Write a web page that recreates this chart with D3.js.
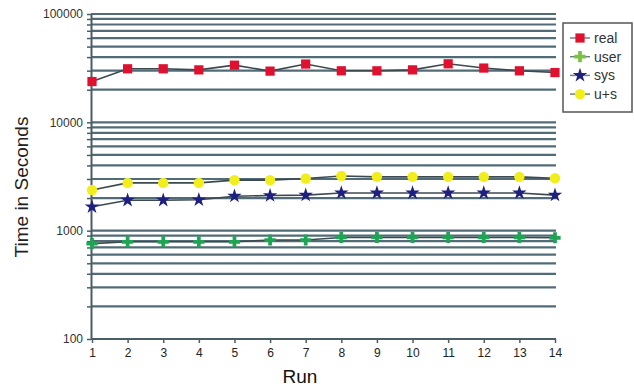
<!DOCTYPE html>
<html>
<head>
<meta charset="utf-8">
<script src="https://cdn.jsdelivr.net/npm/d3@7"></script>
<style>
  body { margin: 0; background: #fff; }
  svg { display: block; font-family: "Liberation Sans", Arial, sans-serif; }
</style>
</head>
<body>
<svg id="chart" width="634" height="387"></svg>
<script>
var runs = [1, 2, 3, 4, 5, 6, 7, 8, 9, 10, 11, 12, 13, 14];
var realTimes = [23800, 31200, 31200, 30500, 33700, 29700, 34500, 29900, 29900, 30500, 34700, 31700, 29900, 28800];
var userTimes = [760, 790, 790, 790, 790, 820, 820, 865, 865, 865, 865, 865, 865, 860];
var sysTimes = [1660, 1910, 1910, 1930, 2080, 2110, 2130, 2230, 2230, 2230, 2230, 2230, 2230, 2130];
var usTimes = [2370, 2760, 2760, 2760, 2930, 2930, 3030, 3200, 3140, 3140, 3140, 3140, 3140, 3050];
var seriesNames = ["real", "user", "sys", "u+s"];
var yTickLabels = [100, 1000, 10000, 100000];

var SERIES = [
    {name: seriesNames[0], values: realTimes, color: "#e0102e", shape: d3.symbolSquare, size: 85},
    {name: seriesNames[1], values: userTimes, color: "#1ea453", shape: d3.symbolCross, size: 70},
    {name: seriesNames[2], values: sysTimes, color: "#1e2080", shape: d3.symbolStar, size: 65},
    {name: seriesNames[3], values: usTimes, color: "#f2ee1c", shape: d3.symbolCircle, size: 85}
];

var svg = d3.select("#chart");
var plotLeft = 91, plotRight = 555, plotTop = 14, plotBottom = 339;

var x = d3.scaleLinear().domain([1, 14]).range([plotLeft + 1, plotRight]);
var y = d3.scaleLog().domain([100, 100000]).range([plotBottom, plotTop]);

// 网格线 (每个数量级的 2..9 倍, 加上整数量级)
var grid = [];
for (var e = 100; e < 100000; e *= 10) {
    for (var k = 2; k <= 9; k++) grid.push(k * e);
}
grid = grid.concat(yTickLabels.slice(1));

svg.append("g")
    .selectAll("line")
    .data(grid)
    .enter()
    .append("line")
    .attr("x1", plotLeft)
    .attr("x2", plotRight + 1)
    .attr("y1", function(d) { return y(d); })
    .attr("y2", function(d) { return y(d); })
    .style("stroke", "#526c77")
    .style("stroke-width", 2.2);

// y 轴
var yAxis = d3.axisLeft(y)
    .tickValues(grid.concat([100]))
    .tickSize(4)
    .tickSizeOuter(0)
    .tickFormat(function(d) { return yTickLabels.indexOf(d) >= 0 ? d : ""; });
var gy = svg.append("g")
    .attr("transform", "translate(" + plotLeft + ",0)")
    .call(yAxis);
gy.select(".domain").style("stroke", "#4a5e66").style("stroke-width", 2);
gy.selectAll(".tick line").style("stroke", "#4a5e66").style("stroke-width", 1.5);
gy.selectAll(".tick text").style("font-size", "12px").style("fill", "#333").attr("x", -8);

// x 轴
var xAxis = d3.axisBottom(x).tickValues(runs).tickSize(4).tickSizeOuter(0);
var gx = svg.append("g")
    .attr("transform", "translate(0," + plotBottom + ")")
    .call(xAxis);
gx.select(".domain").style("stroke", "#4a5e66").style("stroke-width", 2)
    .attr("d", "M" + plotLeft + ",0H" + (plotRight + 1));
gx.selectAll(".tick line").style("stroke", "#4a5e66").style("stroke-width", 1.5);
gx.selectAll(".tick text").style("font-size", "12px").style("fill", "#222").attr("y", 9);

// 折线
var line = d3.line()
    .x(function(d, i) { return x(runs[i]); })
    .y(function(d) { return y(d); });

svg.append("g")
    .selectAll("path")
    .data(SERIES)
    .enter()
    .append("path")
    .attr("d", function(d) { return line(d.values); })
    .style("fill", "none")
    .style("stroke", "#3c4a50")
    .style("stroke-width", 1.6);

// 数据点
SERIES.forEach(function(s) {
    svg.append("g")
        .selectAll("path")
        .data(s.values)
        .enter()
        .append("path")
        .attr("transform", function(d, i) { return "translate(" + x(runs[i]) + "," + y(d) + ")"; })
        .attr("d", d3.symbol().type(s.shape).size(s.size))
        .style("fill", s.color);
});

// 轴标题
svg.append("text")
    .attr("transform", "translate(28,187) rotate(-90)")
    .attr("text-anchor", "middle")
    .style("font-size", "19px")
    .style("fill", "#222")
    .text("Time in Seconds");

svg.append("text")
    .attr("x", 300)
    .attr("y", 383)
    .attr("text-anchor", "middle")
    .style("font-size", "19px")
    .style("fill", "#111")
    .text("Run");

// 图例
var legend = svg.append("g");
legend.append("rect")
    .attr("x", 563)
    .attr("y", 23)
    .attr("width", 69)
    .attr("height", 89)
    .style("fill", "#fff")
    .style("stroke", "#555")
    .style("stroke-width", 1.5);

var legendColors = ["#e0102e", "#7cc242", "#1e2080", "#f2ee1c"];
var item = legend.selectAll("g.item")
    .data(SERIES)
    .enter()
    .append("g")
    .attr("class", "item")
    .attr("transform", function(d, i) { return "translate(0," + (38 + i * 18.7) + ")"; });

item.append("line")
    .attr("x1", 570).attr("x2", 590)
    .style("stroke", "#6d8088")
    .style("stroke-width", 1.5);
item.append("path")
    .attr("transform", "translate(580,0)")
    .attr("d", function(d) { return d3.symbol().type(d.shape).size(d.size)(); })
    .style("fill", function(d, i) { return legendColors[i]; });
item.append("text")
    .attr("x", 594)
    .attr("y", 5)
    .style("font-size", "14px")
    .style("fill", "#333")
    .text(function(d) { return d.name; });
</script>
</body>
</html>
